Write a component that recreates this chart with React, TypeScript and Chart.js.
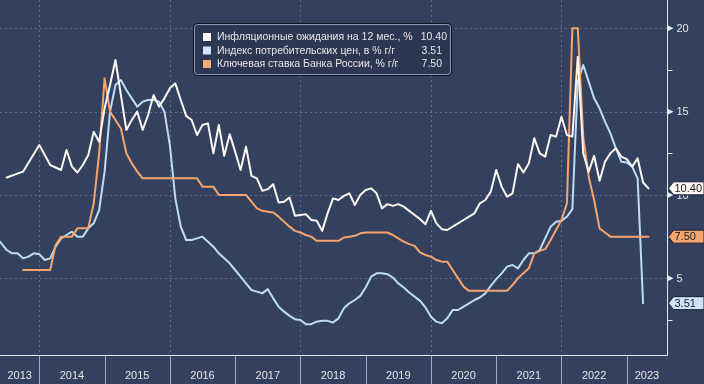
import React, { useEffect, useRef } from "react";
import { Chart, registerables } from "chart.js";

Chart.register(...registerables);

// Monthly observations, first entry = May 2013 (month index 4 counted from Jan 2013)
const FIRST_MONTH_INDEX = 4;

const seriesNames = [
  "Инфляционные ожидания на 12 мес., %",
  "Индекс потребительских цен, в % г/г",
  "Ключевая ставка Банка России, % г/г",
];

const expectations: (number | null)[] = [
  null, null, 11.05, null, null, 11.4, null, null,
  13.0, null, 11.8, null, 11.5, 12.7, 11.7, 11.35, 11.8, 12.4, 13.8, 13.2,
  15.2, 16.6, 18.1, 16.0, 13.9, 14.5, 15.0, 13.9, 14.8, 16.0, 15.3, 15.8,
  16.4, 16.7, 15.7, 14.75, 14.5, 13.6, 14.2, 14.3, 12.5, 14.2, 12.35, 13.65,
  12.6, 11.5, 12.9, 11.15, 11.0, 10.25, 10.35, 10.65, 9.55, 9.6, 9.85, 8.75,
  8.8, 8.85, 8.5, 8.45, 7.85, 8.9, 9.8, 9.7, 9.95, 10.1, 9.4, 10.0,
  10.3, 10.4, 10.1, 9.2, 9.45, 9.35, 9.45, 9.3, 9.05, 8.8, 8.55, 8.25,
  9.05, 8.3, 7.95, 7.9, 8.1, 8.3, 8.5, 8.7, 8.9, 9.5, 9.7, 10.2,
  11.5, 10.5, 9.9, 10.1, 11.85, 11.35, 11.9, 13.4, 12.5, 12.3, 13.6, 13.5,
  14.7, 13.6, 13.5, 18.3, 12.5, 11.4, 12.35, 10.85, 12.0, 12.5, 12.8, 12.3,
  12.15, 11.7, 12.2, 10.75, 10.4,
];

const cpi: (number | null)[] = [
  7.5, 7.1, 6.7, 6.5, 6.5, 6.2, 6.3, 6.5,
  6.45, 6.1, 6.2, 6.9, 7.4, 7.6, 7.8, 7.5, 7.5, 8.0, 8.3, 9.1,
  11.4, 15.0, 16.6, 16.9, 16.3, 15.8, 15.3, 15.6, 15.7, 15.7, 15.6, 15.0,
  13.0, 9.8, 8.1, 7.3, 7.3, 7.4, 7.5, 7.2, 6.9, 6.5, 6.2, 5.9,
  5.5, 5.1, 4.7, 4.3, 4.2, 4.1, 4.35, 3.8, 3.3, 3.0, 2.75, 2.55,
  2.5, 2.25, 2.25, 2.4, 2.45, 2.45, 2.35, 2.6, 3.2, 3.5, 3.7, 3.95,
  4.45, 5.1, 5.3, 5.3, 5.25, 5.05, 4.7, 4.45, 4.15, 3.9, 3.65, 3.25,
  2.7, 2.4, 2.3, 2.6, 3.1, 3.1, 3.3, 3.5, 3.7, 3.85, 4.1, 4.55,
  4.95, 5.3, 5.7, 5.8, 5.6, 6.1, 6.5, 6.5, 6.7, 7.4, 8.1, 8.4,
  8.45, 8.7, 9.15, 16.8, 17.8, 16.8, 15.8, 15.2, 14.4, 13.7, 12.8, 12.0,
  11.95, 11.7, 11.0, 3.51, null,
];

const keyRate: (number | null)[] = [
  null, null, null, null, null, 5.5, 5.5, 5.5,
  5.5, 5.5, 5.5, 7.0, 7.5, 7.5, 7.5, 8.0, 8.0, 8.0, 9.5, 12.5,
  17.0, 15.0, 14.5, 14.0, 12.5, 11.9, 11.4, 11.0, 11.0, 11.0, 11.0, 11.0,
  11.0, 11.0, 11.0, 11.0, 11.0, 11.0, 10.5, 10.5, 10.5, 10.0, 10.0, 10.0,
  10.0, 10.0, 10.0, 9.6, 9.2, 9.05, 9.0, 8.95, 8.7, 8.4, 8.1, 7.85,
  7.75, 7.6, 7.5, 7.25, 7.25, 7.25, 7.25, 7.25, 7.45, 7.5, 7.55, 7.7,
  7.75, 7.75, 7.75, 7.75, 7.75, 7.6, 7.4, 7.2, 7.05, 6.95, 6.55, 6.4,
  6.3, 6.1, 6.0, 6.0, 5.5, 5.0, 4.5, 4.25, 4.25, 4.25, 4.25, 4.25,
  4.25, 4.25, 4.25, 4.6, 5.0, 5.3, 5.6, 6.5, 6.65, 6.75, 7.3, 7.9,
  8.5, 9.5, 20.0, 20.0, 13.5, 11.1, 9.7, 8.0, 7.75, 7.5, 7.5, 7.5,
  7.5, 7.5, 7.5, 7.5, 7.5,
];

const yearLabels = ["2013", "2014", "2015", "2016", "2017", "2018", "2019", "2020", "2021", "2022", "2023"];
const gridYears = [2014, 2016, 2018, 2020, 2022];
const yMajorTicks = [5, 10, 15, 20];
const yMinorTicks = [2.5, 7.5, 12.5, 17.5];

const X_MIN = 4.77;
const X_MAX = 127.4;
const Y_MIN = 0.4;
const Y_MAX = 21.7;

const W = 704;
const H = 384;
const BG = "#33415f";
const GRID = "#5d6d8e";
const AXIS = "#e8e8e8";
const TEXT = "#e6e6e6";
const FONT = "11px 'Liberation Sans', Arial, sans-serif";
const LEGEND_FONT = "10.5px 'Liberation Sans', Arial, sans-serif";

const lineColors = ["#fbf6f1", "#bddcf6", "#f5a46e"];
const boxColors = ["#fdf9f5", "#cbe4fb", "#f5a46e"];
const swatchColors = ["#fdf5ee", "#cfe5fb", "#f6a877"];

const toPoints = (arr: (number | null)[]) =>
  arr.map((v, i) => ({ x: FIRST_MONTH_INDEX + i, y: v }));

const lastValue = (arr: (number | null)[]) => {
  for (let i = arr.length - 1; i >= 0; i--) if (arr[i] !== null) return arr[i] as number;
  return 0;
};

const yearStart = (label: string) => (parseInt(label, 10) - 2013) * 12;

const decorPlugin = {
  id: "decor",
  beforeDraw(chart: any) {
    const ctx = chart.ctx;
    ctx.save();
    ctx.fillStyle = BG;
    ctx.fillRect(0, 0, chart.width, chart.height);
    ctx.restore();
  },
  beforeDatasetsDraw(chart: any) {
    const { ctx, chartArea: ca } = chart;
    const xs = chart.scales.x;
    const ys = chart.scales.y;
    ctx.save();
    ctx.strokeStyle = GRID;
    ctx.lineWidth = 1;
    ctx.setLineDash([2, 3]);
    for (const v of yMajorTicks) {
      const py = Math.round(ys.getPixelForValue(v)) + 0.5;
      ctx.beginPath();
      ctx.moveTo(ca.left, py);
      ctx.lineTo(ca.right, py);
      ctx.stroke();
    }
    for (const yr of gridYears) {
      const px = Math.round(xs.getPixelForValue((yr - 2013) * 12)) + 0.5;
      ctx.beginPath();
      ctx.moveTo(px, ca.top);
      ctx.lineTo(px, ca.bottom);
      ctx.stroke();
    }
    ctx.restore();
  },
  afterDatasetsDraw(chart: any) {
    const { ctx, chartArea: ca } = chart;
    const xs = chart.scales.x;
    const ys = chart.scales.y;
    const right = Math.round(ca.right) + 0.5;
    const bottom = Math.round(ca.bottom) + 0.5;
    ctx.save();

    // frame
    ctx.strokeStyle = AXIS;
    ctx.lineWidth = 1;
    ctx.beginPath();
    ctx.moveTo(right, 0);
    ctx.lineTo(right, bottom);
    ctx.lineTo(0, bottom);
    ctx.stroke();

    // right axis
    ctx.font = FONT;
    ctx.textBaseline = "middle";
    ctx.textAlign = "left";
    for (const v of yMinorTicks) {
      const py = Math.round(ys.getPixelForValue(v)) + 0.5;
      ctx.beginPath();
      ctx.moveTo(right, py);
      ctx.lineTo(right + 5, py);
      ctx.stroke();
    }
    for (const v of yMajorTicks) {
      const py = ys.getPixelForValue(v);
      ctx.fillStyle = AXIS;
      ctx.beginPath();
      ctx.moveTo(right, py - 3);
      ctx.lineTo(right + 6, py);
      ctx.lineTo(right, py + 3);
      ctx.closePath();
      ctx.fill();
      ctx.fillStyle = TEXT;
      ctx.fillText(String(v), right + 9, py + 0.5);
    }

    // x axis: year separators and labels
    ctx.strokeStyle = "#a3abbb";
    ctx.textAlign = "center";
    for (const label of yearLabels) {
      const b0 = yearStart(label);
      const p0 = xs.getPixelForValue(b0);
      const p1 = xs.getPixelForValue(b0 + 12);
      if (p0 > ca.left && p0 < ca.right) {
        const px = Math.round(p0) + 0.5;
        ctx.beginPath();
        ctx.moveTo(px, bottom);
        ctx.lineTo(px, chart.height);
        ctx.stroke();
      }
      const c0 = Math.max(ca.left, p0);
      const c1 = Math.min(ca.right, p1);
      ctx.fillStyle = TEXT;
      ctx.fillText(label, (c0 + c1) / 2, 376);
    }

    // last value boxes
    const lasts = [lastValue(expectations), lastValue(cpi), lastValue(keyRate)];
    ctx.textAlign = "left";
    lasts.forEach((v, i) => {
      const py = ys.getPixelForValue(v);
      const h = 13;
      const x0 = right + 1;
      ctx.beginPath();
      ctx.moveTo(x0, py);
      ctx.lineTo(x0 + 5, py - h / 2);
      ctx.lineTo(chart.width, py - h / 2);
      ctx.lineTo(chart.width, py + h / 2);
      ctx.lineTo(x0 + 5, py + h / 2);
      ctx.closePath();
      ctx.fillStyle = boxColors[i];
      ctx.fill();
      ctx.strokeStyle = "#1b2233";
      ctx.stroke();
      ctx.fillStyle = "#1a1a1a";
      ctx.fillText(v.toFixed(2), x0 + 6, py + 0.5);
    });

    // legend
    const lx = 193.5, ly = 23.5, lw = 258, lh = 52;
    ctx.beginPath();
    ctx.roundRect(lx, ly, lw, lh, 4);
    ctx.fillStyle = "#2c3853";
    ctx.fill();
    ctx.strokeStyle = "#0d1220";
    ctx.lineWidth = 1;
    ctx.stroke();
    ctx.beginPath();
    ctx.roundRect(lx + 1, ly + 1, lw - 2, lh - 2, 3);
    ctx.strokeStyle = "#8c98b2";
    ctx.stroke();
    ctx.font = LEGEND_FONT;
    const rows = [37, 50.5, 64];
    seriesNames.forEach((name, i) => {
      const ry = rows[i];
      ctx.fillStyle = swatchColors[i];
      ctx.fillRect(203, ry - 4, 8, 8);
      ctx.fillStyle = TEXT;
      ctx.textAlign = "left";
      ctx.fillText(name, 217, ry + 0.5);
      ctx.textAlign = "right";
      ctx.fillText(lasts[i].toFixed(2), i === 0 ? 447 : 442, ry + 0.5);
    });

    ctx.restore();
  },
};

export default function App() {
  const ref = useRef<HTMLCanvasElement | null>(null);

  useEffect(() => {
    document.body.style.margin = "0";
    if (!ref.current) return;
    const chart = new Chart(ref.current, {
      type: "line",
      data: {
        datasets: [
          { label: seriesNames[0], data: toPoints(expectations), borderColor: lineColors[0], order: 0 },
          { label: seriesNames[1], data: toPoints(cpi), borderColor: lineColors[1], order: 2 },
          { label: seriesNames[2], data: toPoints(keyRate), borderColor: lineColors[2], order: 1 },
        ] as any,
      },
      options: {
        animation: false,
        responsive: false,
        devicePixelRatio: 1,
        spanGaps: true,
        layout: { padding: { left: 0, top: 0, right: 37, bottom: 29 } },
        elements: {
          line: { borderWidth: 2, tension: 0, borderJoinStyle: "round", borderCapStyle: "round" },
          point: { radius: 0, hoverRadius: 0 },
        },
        plugins: { legend: { display: false }, tooltip: { enabled: false } },
        scales: {
          x: { type: "linear", min: X_MIN, max: X_MAX, display: false },
          y: { type: "linear", min: Y_MIN, max: Y_MAX, display: false },
        },
      } as any,
      plugins: [decorPlugin],
    });
    return () => chart.destroy();
  }, []);

  return (
    <div style={{ width: W, height: H, background: BG }}>
      <canvas ref={ref} width={W} height={H} style={{ display: "block" }} />
    </div>
  );
}
